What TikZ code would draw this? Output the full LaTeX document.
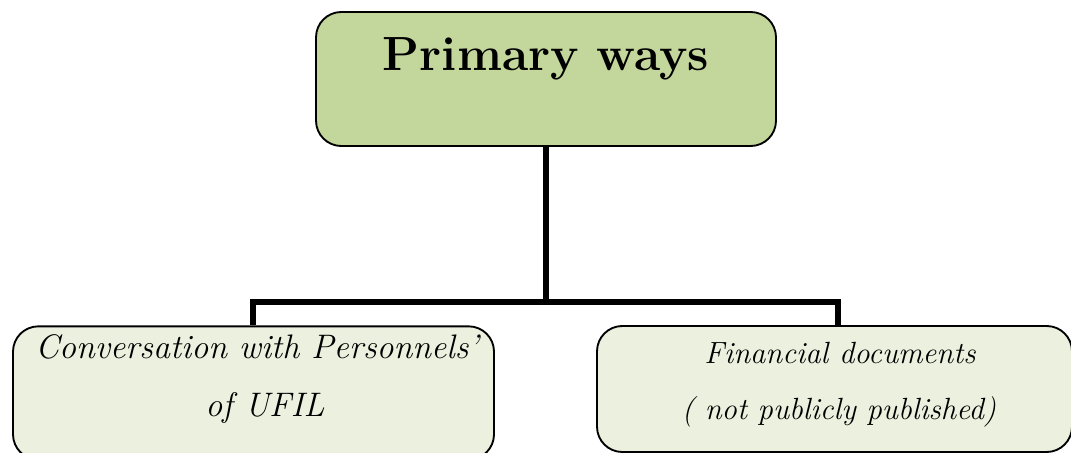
\documentclass[tikz,border=0pt]{standalone}
\usetikzlibrary{calc}
\definecolor{headfill}{HTML}{C3D69B}
\definecolor{leaffill}{HTML}{EBF1DE}
\tikzset{
  headbox/.style={draw=black, line width=1.4pt, fill=headfill, rounded corners=19pt,
    minimum width=345pt, minimum height=100.5pt, inner sep=0pt},
  leafbox/.style={draw=black, line width=1.4pt, fill=leaffill, rounded corners=19pt,
    inner sep=0pt},
  conn/.style={draw=black, line width=4.2pt},
  headtext/.style={font=\fontsize{36}{40}\selectfont\bfseries, anchor=base, inner sep=0pt},
  leaftext/.style={font=\fontsize{#1}{27}\selectfont\itshape, anchor=base, inner sep=0pt},
  leaftext/.default=23,
}
\begin{document}
\begin{tikzpicture}[x=0.75pt, y=-0.75pt]
\useasboundingbox (0,0) rectangle (1071,453);
\clip (0,0) rectangle (1071,453);

% boxes
\node[headbox] (top) at (546,79) {};
\node[leafbox, minimum width=360.75pt, minimum height=100pt] (left) at (253.5,393) {};
\node[leafbox, minimum width=356.25pt, minimum height=94.5pt] (right) at (834.5,389) {};

% texts
\node[headtext] (title) at (546,70) {Primary ways};
\node[leaftext=25.5] (l1) at (257,358) {Conversation with Personnels'};
\node[leaftext=25.5] (l2) at (265,416) {of UFIL};
\node[leaftext] (r1) at (840,363) {Financial documents};
\node[leaftext] (r2) at (839,419) {( not publicly published)};

% tree connectors
\coordinate (bus) at (546,302);
\coordinate (lj) at (253,302);
\coordinate (rj) at (838,302);
\draw[conn] (top.south) -- (bus);
\draw[conn, line cap=rect] (lj) -- (rj);
\draw[conn] (lj) -- (lj |- left.north);
\draw[conn] (rj) -- (rj |- right.north);
\end{tikzpicture}
\end{document}
